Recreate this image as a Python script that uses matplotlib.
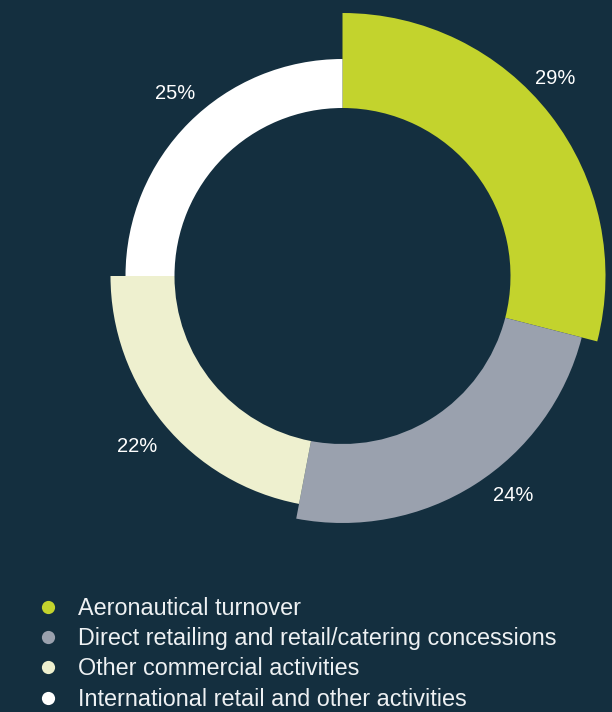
import matplotlib
matplotlib.use("Agg")
import matplotlib.pyplot as plt
from matplotlib.lines import Line2D
import numpy as np

# ---- data ----
categories = [
    "Aeronautical turnover",
    "Direct retailing and retail/catering concessions",
    "Other commercial activities",
    "International retail and other activities",
]
shares = [29, 24, 22, 25]
labels = ["29%", "24%", "22%", "25%"]

# ---- style ----
colors = ["#c3d32d", "#9aa1ae", "#eef0cf", "#ffffff"]
bg = "#142f3f"
inner_r = 168
outer_r = [263, 247, 232, 217]          # stepped outer radii (px)
label_r = [290, 278, 267, 248]          # label distance (px)
label_shift = [-5, -5.5, 0, 2.5]        # label angle shift (deg, clockwise)

W, H = 612, 712
cx, cy = 342.5, 276  # pie centre in pixels (from top-left)

fig = plt.figure(figsize=(W / 100, H / 100), dpi=100)
fig.patch.set_facecolor(bg)
ax = fig.add_axes([0, 0, 1, 1])
ax.set_facecolor(bg)

wedges, _ = ax.pie(shares, colors=colors, startangle=90, counterclock=False,
                   radius=max(outer_r), wedgeprops=dict(linewidth=0))
for w, r in zip(wedges, outer_r):
    w.set_radius(r)
    w.set_width(r - inner_r)

for w, lab, lr, sh in zip(wedges, labels, label_r, label_shift):
    mid = np.deg2rad((w.theta1 + w.theta2) / 2 - sh)
    ax.text(lr * np.cos(mid), lr * np.sin(mid), lab, ha="center", va="center",
            color="white", fontsize=14.5, family=["Liberation Sans", "DejaVu Sans"])

ax.set_aspect("auto")
ax.set_xlim(-cx, W - cx)
ax.set_ylim(cy - H, cy)
ax.axis("off")

handles = [Line2D([], [], marker="o", linestyle="", markersize=9.5,
                  markerfacecolor=c, markeredgewidth=0) for c in colors]
leg = fig.legend(handles, categories, loc="upper left",
                 bbox_to_anchor=(36 / W, 1 - 597 / H), frameon=False,
                 labelcolor="#eef1f3", handlelength=1.0,
                 handletextpad=0.82, labelspacing=0.31, borderpad=0,
                 borderaxespad=0, prop=dict(family=["Liberation Sans", "DejaVu Sans"], size=16.8))

fig.savefig("out.png", dpi=100, facecolor=bg)
